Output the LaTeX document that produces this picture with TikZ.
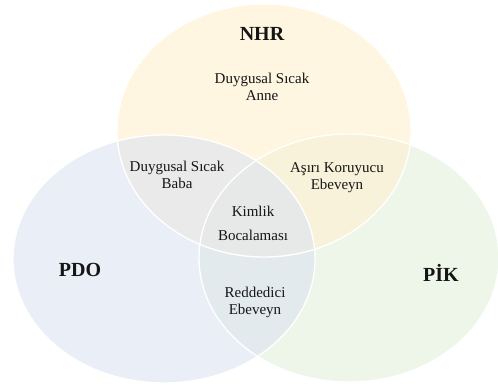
\documentclass[tikz,border=0pt]{standalone}
\usepackage{fontspec}
\setmainfont{Liberation Serif}
\definecolor{nhrcol}{HTML}{FFF0D0}
\definecolor{pdocol}{HTML}{DCE3F2}
\definecolor{pikcol}{HTML}{E4F0DC}
\definecolor{txt}{HTML}{151515}
\begin{document}
\begin{tikzpicture}[x=1pt,y=-1pt,
  setfill/.style={fill=#1,fill opacity=0.6},
  rim/.style={draw=white,line width=1.3pt},
  lbl/.style={text=txt,align=center,font=\fontsize{15}{17}\selectfont,inner sep=0pt},
  title/.style={text=txt,font=\fontsize{20}{22}\selectfont\bfseries,inner sep=0pt}]
\useasboundingbox (0,0) rectangle (498,387);
\fill[white] (0,0) rectangle (498,387);
% sets
\fill[setfill=pikcol] (349,258) ellipse [x radius=150, y radius=124];
\fill[setfill=nhrcol] (264,130.5) ellipse [x radius=147, y radius=126.5];
\fill[setfill=pdocol] (164,259) ellipse [x radius=151, y radius=124];
\draw[rim] (349,258) ellipse [x radius=150, y radius=124];
\draw[rim] (264,130.5) ellipse [x radius=147, y radius=126.5];
\draw[rim] (164,259) ellipse [x radius=151, y radius=124];
% labels
\node[title] (nhr) at (262,34) {NHR};
\node[title] (pdo) at (80,270) {PDO};
\node[title] (pik) at (441,273) {PİK};
\node[lbl] (anne) at (262,87) {Duygusal Sıcak\\Anne};
\node[lbl] (baba) at (177,175) {Duygusal Sıcak\\Baba};
\node[lbl] (asiri) at (337,178) {Aşırı Koruyucu\\Ebeveyn};
\node[lbl] (kimlik) at (253,223) {Kimlik\\[7pt]Bocalaması};
\node[lbl] (redd) at (255,302) {Reddedici\\Ebeveyn};
\end{tikzpicture}
\end{document}
